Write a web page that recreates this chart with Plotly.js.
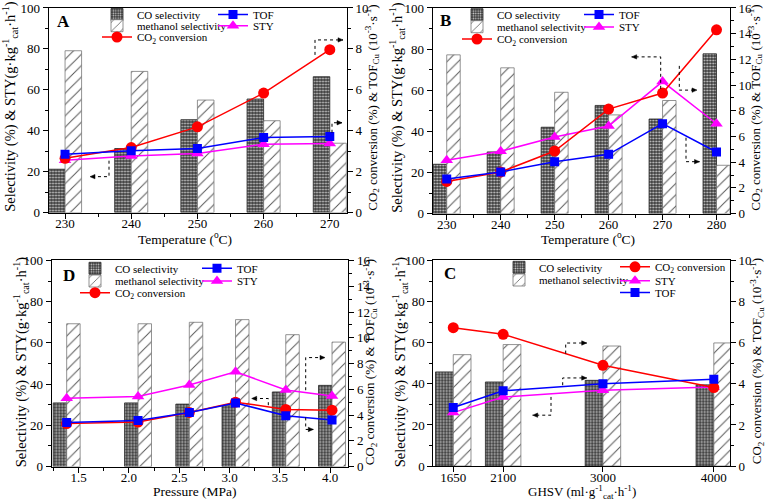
<!DOCTYPE html>
<html>
<head>
<meta charset="utf-8">
<script src="https://cdn.plot.ly/plotly-3.0.1.min.js"></script>
<style>html,body{margin:0;padding:0;background:#fff;}#chart{width:780px;height:502px;}</style>
</head>
<body>
<div id="chart"></div>
<script>
// ---------- data ----------
// Panel A: temperature series
const tempA     = [230, 240, 250, 260, 270];
const coSelA    = [21.2, 31.3, 45.4, 55.5, 66.4];
const meohSelA  = [79.1, 69.0, 55.0, 44.9, 33.9];
const co2ConvA  = [2.65, 3.18, 4.19, 5.84, 7.96];
const tofA      = [2.85, 3.02, 3.13, 3.67, 3.72];
const styA      = [25.6, 27.6, 28.9, 33.4, 33.8];

// Panel B: temperature series
const tempB     = [230, 240, 250, 260, 270, 280];
const coSelB    = [24.0, 30.0, 42.0, 52.6, 46.0, 77.7];
const meohSelB  = [77.2, 70.9, 59.0, 48.0, 55.0, 23.5];
const co2ConvB  = [2.5, 3.24, 4.87, 8.13, 9.38, 14.3];
const tofB      = [2.7, 3.24, 4.04, 4.61, 7.0, 4.79];
const styB      = [25.9, 30.3, 37.2, 42.6, 64.2, 43.7];

// Panel D: pressure series
const pressD    = [1.38, 2.09, 2.60, 3.06, 3.56, 4.02];
const coSelD    = [30.9, 30.9, 30.3, 29.5, 36.2, 39.4];
const meohSelD  = [69.3, 69.3, 70.0, 71.3, 64.0, 60.4];
const co2ConvD  = [3.34, 3.46, 4.2, 5.0, 4.44, 4.38];
const tofD      = [3.43, 3.57, 4.2, 4.94, 3.95, 3.62];
const styD      = [33.2, 34.0, 39.6, 46.0, 37.2, 34.3];

// Panel C: GHSV series
const ghsvC     = [1650, 2100, 3000, 4000];
const coSelC    = [45.8, 40.9, 41.7, 39.5];
const meohSelC  = [54.2, 59.1, 58.4, 59.9];
const co2ConvC  = [6.73, 6.41, 4.9, 3.82];
const styC      = [26.0, 33.6, 36.9, 38.5];
const tofC      = [2.85, 3.66, 4.01, 4.22];

// Labels
const nameCO   = 'CO selectivity';
const nameMeOH = 'methanol selectivity';
const nameCO2  = 'CO<sub>2</sub> conversion';
const nameTOF  = 'TOF';
const nameSTY  = 'STY';
const leftTitle  = 'Selectivity (%) &amp; STY(g·kg<sup>-1</sup><sub>cat</sub>·h<sup>-1</sup>)';
const rightTitle = 'CO<sub>2</sub> conversion (%) &amp; TOF<sub>Cu</sub> (10<sup>-3</sup>·s<sup>-1</sup>)';
const tempTitle  = 'Temperature (<sup>o</sup>C)';
const pressTitle = 'Pressure (MPa)';
const ghsvTitle  = 'GHSV (ml·g<sup>-1</sup><sub>cat</sub>·h<sup>-1</sup>)';

// ---------- styling helpers ----------
const W = 780, H = 502;
const FONT = 'Liberation Serif, Times New Roman, serif';
const px = x => x / W;
const py = y => 1 - y / H;

const coPattern   = {shape: '.', bgcolor: '#3a3a3a', fgcolor: '#cfcfcf', size: 3, solidity: 0.35};
const meohPattern = {shape: '/', bgcolor: '#ffffff', fgcolor: '#555555', size: 8, solidity: 0.12};

let legends = {};
let legendCount = 0;
function newLegend(textXpx, ypx) {
  legendCount += 1;
  const key = legendCount === 1 ? 'legend' : 'legend' + legendCount;
  legends[key] = {
    x: px(textXpx - 40), y: py(ypx), xanchor: 'left', yanchor: 'middle',
    bgcolor: 'rgba(0,0,0,0)', borderwidth: 0, itemwidth: 30,
    font: {family: FONT, size: 11, color: '#000'}
  };
  return key;
}

function panelTraces(p) {
  const xa = p.xa, yl = p.yl, yr = p.yr;
  return [
    {type: 'bar', x: p.x, y: p.co, name: nameCO, xaxis: xa, yaxis: yl, width: p.w, offset: -p.w,
     marker: {color: '#3a3a3a', pattern: coPattern, line: {color: '#222', width: 0.8}},
     legend: newLegend(p.leg.co[0], p.leg.co[1])},
    {type: 'bar', x: p.x, y: p.meoh, name: nameMeOH, xaxis: xa, yaxis: yl, width: p.w, offset: 0,
     marker: {color: '#ffffff', pattern: meohPattern, line: {color: '#777', width: 0.8}},
     legend: newLegend(p.leg.meoh[0], p.leg.meoh[1])},
    {type: 'scatter', mode: 'lines+markers', x: p.x, y: p.sty, name: nameSTY, xaxis: xa, yaxis: yl,
     line: {color: '#ff00ff', width: 1.5}, marker: {symbol: 'triangle-up', size: 11, color: '#ff00ff'},
     legend: newLegend(p.leg.sty[0], p.leg.sty[1])},
    {type: 'scatter', mode: 'lines+markers', x: p.x, y: p.co2, name: nameCO2, xaxis: xa, yaxis: yr,
     line: {color: '#ff0000', width: 1.5}, marker: {symbol: 'circle', size: 11, color: '#ff0000'},
     legend: newLegend(p.leg.co2[0], p.leg.co2[1])},
    {type: 'scatter', mode: 'lines+markers', x: p.x, y: p.tof, name: nameTOF, xaxis: xa, yaxis: yr,
     line: {color: '#0000ff', width: 1.5}, marker: {symbol: 'square', size: 9, color: '#0000ff'},
     legend: newLegend(p.leg.tof[0], p.leg.tof[1])}
  ];
}

const traces = [].concat(
  panelTraces({x: tempA, co: coSelA, meoh: meohSelA, sty: styA, co2: co2ConvA, tof: tofA,
    xa: 'x', yl: 'y', yr: 'y2', w: 2.5,
    leg: {co: [137, 14], meoh: [137, 25.7], co2: [137, 37], tof: [253, 14], sty: [253, 25.7]}}),
  panelTraces({x: tempB, co: coSelB, meoh: meohSelB, sty: styB, co2: co2ConvB, tof: tofB,
    xa: 'x2', yl: 'y3', yr: 'y4', w: 2.5,
    leg: {co: [497, 14.7], meoh: [497, 26.7], co2: [497, 39], tof: [619, 14.5], sty: [619, 27]}}),
  panelTraces({x: pressD, co: coSelD, meoh: meohSelD, sty: styD, co2: co2ConvD, tof: tofD,
    xa: 'x3', yl: 'y5', yr: 'y6', w: 0.134,
    leg: {co: [115, 268.3], meoh: [115, 281], co2: [115, 292.7], tof: [237, 268.3], sty: [237, 281]}}),
  panelTraces({x: ghsvC, co: coSelC, meoh: meohSelC, sty: styC, co2: co2ConvC, tof: tofC,
    xa: 'x4', yl: 'y7', yr: 'y8', w: 160,
    leg: {co: [539, 267.3], meoh: [539, 280], co2: [655, 266.8], sty: [655, 280.8], tof: [655, 292.5]}})
);

// ---------- axes ----------
const tickFont = {family: FONT, size: 13, color: '#000'};
const minorX = d => ({dtick: d, ticks: 'outside', ticklen: 3, tickcolor: '#000'});

function xAxis(domain, anchor, range, extra) {
  return Object.assign({
    domain: domain, anchor: anchor, range: range, showgrid: false, zeroline: false,
    showline: true, linecolor: '#000', linewidth: 1, mirror: true,
    ticks: 'outside', ticklen: 5, tickcolor: '#000', tickfont: tickFont, ticklabelstandoff: -6
  }, extra);
}
function yLeft(domain, anchor) {
  return {
    domain: domain, anchor: anchor, range: [0, 100], dtick: 20, showgrid: false, zeroline: false,
    showline: true, linecolor: '#000', linewidth: 1, mirror: true,
    ticks: 'outside', ticklen: 5, tickcolor: '#000', tickfont: tickFont,
    minor: {dtick: 10, ticks: 'outside', ticklen: 3, tickcolor: '#000'}
  };
}
function yRight(overlay, anchor, max) {
  return {
    overlaying: overlay, side: 'right', anchor: anchor, range: [0, max], dtick: 2,
    showgrid: false, zeroline: false, showline: true, linecolor: '#000', linewidth: 1,
    ticks: 'outside', ticklen: 5, tickcolor: '#000', tickfont: tickFont,
    minor: {dtick: 1, ticks: 'outside', ticklen: 3, tickcolor: '#000'}
  };
}

const domA_x = [px(48.5), px(347)], domA_y = [py(212), py(7)];
const domB_x = [px(432.7), px(730)], domB_y = [py(213), py(7)];
const domD_x = [px(51.7), px(348.3)], domD_y = [py(466.5), py(260)];
const domC_x = [px(433.3), px(730)], domC_y = [py(466), py(260)];

// ---------- dotted guide arrows ----------
let shapes = [];
function arrow(pts) {
  const path = 'M' + pts.map(p => px(p[0]) + ',' + py(p[1])).join('L');
  shapes.push({type: 'path', xref: 'paper', yref: 'paper', path: path,
    line: {color: '#000', width: 1, dash: 'dot'}});
  const a = pts[pts.length - 2], b = pts[pts.length - 1];
  const dx = b[0] - a[0], dy = b[1] - a[1], L = Math.hypot(dx, dy);
  const ux = dx / L, uy = dy / L;
  const bx = b[0] - 5 * ux, by = b[1] - 5 * uy;
  const p1 = [bx - 2.2 * uy, by + 2.2 * ux], p2 = [bx + 2.2 * uy, by - 2.2 * ux];
  shapes.push({type: 'path', xref: 'paper', yref: 'paper',
    path: 'M' + px(b[0]) + ',' + py(b[1]) + 'L' + px(p1[0]) + ',' + py(p1[1]) + 'L' + px(p2[0]) + ',' + py(p2[1]) + 'Z',
    fillcolor: '#000', line: {color: '#000', width: 0.5}});
}
// A
arrow([[109, 160], [109, 176], [90, 176]]);
arrow([[315, 54], [315, 39], [343, 39]]);
arrow([[332, 132], [332, 122], [342, 122]]);
// B
arrow([[660.7, 88], [660.7, 56], [631.7, 56]]);
arrow([[679.3, 65], [679.3, 89.3], [697, 89.3]]);
arrow([[686, 137], [686, 161], [699.5, 161]]);
// D
arrow([[305.7, 390], [305.7, 357.3], [325, 357.3]]);
arrow([[268.3, 405], [268.3, 398.3], [251.7, 398.3]]);
arrow([[305.7, 417.3], [305.7, 429.3], [313.3, 429.3]]);
// C
arrow([[565.7, 353.3], [565.7, 342.7], [586.7, 342.7]]);
arrow([[562.7, 385], [562.7, 377.7], [586.7, 377.7]]);
arrow([[551, 396.7], [551, 415], [532.7, 415]]);

// ---------- annotations: panel letters and axis titles ----------
const letterFont = {family: FONT, size: 17, color: '#000'};
function letter(t, x, y) {
  return {text: '<b>' + t + '</b>', x: px(x), y: py(y), xref: 'paper', yref: 'paper',
    showarrow: false, xanchor: 'left', yanchor: 'middle', font: letterFont};
}
function title(t, x, y, size, angle) {
  return {text: t, x: px(x), y: py(y), xref: 'paper', yref: 'paper', showarrow: false,
    textangle: angle, xanchor: 'center', yanchor: 'middle',
    font: {family: FONT, size: size, color: '#000'}};
}

const annotations = [
  letter('A', 55, 21), letter('B', 438, 20), letter('D', 61, 275), letter('C', 442, 273),
  title(leftTitle, 10, 106, 14.5, -90), title(rightTitle, 372, 107, 13, -90),
  title(leftTitle, 397, 107, 14.5, -90), title(rightTitle, 755, 107, 13, -90),
  title(leftTitle, 21, 362, 14.5, -90), title(rightTitle, 370, 362, 13, -90),
  title(leftTitle, 400, 361, 14.5, -90), title(rightTitle, 757, 361, 13, -90),
  title(tempTitle, 185, 238, 13.5, 0), title(tempTitle, 588, 238, 13.5, 0),
  title(pressTitle, 195, 491, 13.5, 0), title(ghsvTitle, 582, 492, 13, 0)
];

const layout = Object.assign({
  width: W, height: H, margin: {l: 0, r: 0, t: 0, b: 0},
  paper_bgcolor: '#fff', plot_bgcolor: 'rgba(0,0,0,0)',
  font: {family: FONT, color: '#000'},
  barmode: 'overlay', showlegend: true,
  xaxis: xAxis(domA_x, 'y', [227.5, 272.6], {dtick: 10, minor: minorX(5)}),
  yaxis: yLeft(domA_y, 'x'),
  yaxis2: yRight('y', 'x', 10),
  xaxis2: xAxis(domB_x, 'y3', [227.4, 282.5], {dtick: 10, minor: minorX(5)}),
  yaxis3: yLeft(domB_y, 'x2'),
  yaxis4: yRight('y3', 'x2', 16),
  xaxis3: xAxis(domD_x, 'y5', [1.231, 4.182], {dtick: 0.5, tick0: 0, tickformat: '.1f', minor: minorX(0.25)}),
  yaxis5: yLeft(domD_y, 'x3'),
  yaxis6: yRight('y5', 'x3', 16),
  xaxis4: xAxis(domC_x, 'y7', [1470, 4146], {tickmode: 'array', tickvals: ghsvC, ticktext: ghsvC.map(String)}),
  yaxis7: yLeft(domC_y, 'x4'),
  yaxis8: yRight('y7', 'x4', 10),
  shapes: shapes,
  annotations: annotations
}, legends);

Plotly.newPlot('chart', traces, layout, {displayModeBar: false, staticPlot: true});
</script>
</body>
</html>
